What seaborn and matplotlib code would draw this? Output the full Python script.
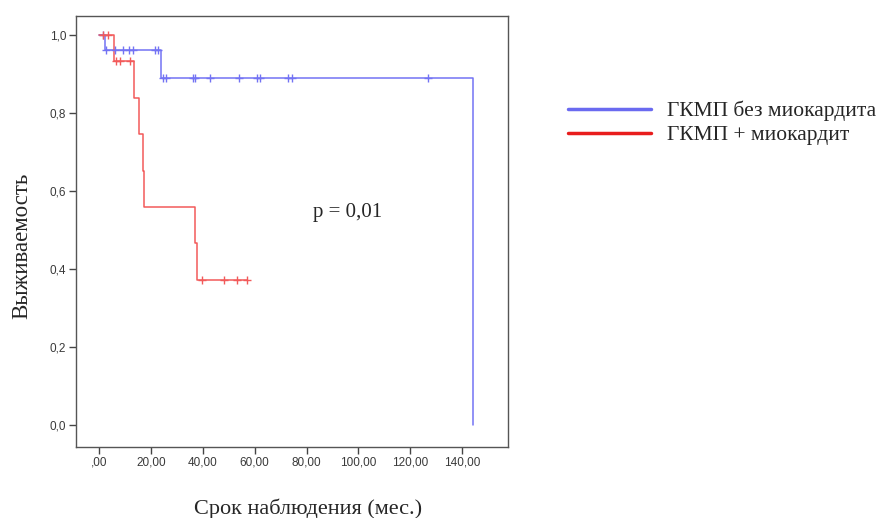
import numpy as np
import pandas as pd
import matplotlib
matplotlib.use("Agg")
import matplotlib.pyplot as plt
from matplotlib.lines import Line2D
import seaborn as sns

## data ##

group_labels = ["ГКМП без миокардита", "ГКМП + миокардит"]

# blue group: event times and survival after each step
blue_times = [0, 2.3, 24.0, 144.0]
blue_surv = [1.0, 0.963, 0.889, 0.0]
blue_censored = [1.5, 2.8, 6.2, 9.4, 11.7, 13.0, 21.6, 22.9,
                 24.6, 25.8, 36.1, 37.0, 42.8, 54.1, 60.8, 62.1, 73.0, 74.3, 127.0]

# red group
red_times = [0, 5.8, 13.5, 15.2, 16.8, 17.4, 36.9, 37.9, 57.0]
red_surv = [1.0, 0.933, 0.840, 0.747, 0.653, 0.560, 0.467, 0.373, 0.373]
red_censored = [1.5, 3.5, 6.5, 8.0, 12.0, 39.6, 48.0, 53.0, 57.0]

x_ticks = [0, 20, 40, 60, 80, 100, 120, 140]
x_tick_labels = [",00", "20,00", "40,00", "60,00", "80,00", "100,00", "120,00", "140,00"]
y_ticks = [0.0, 0.2, 0.4, 0.6, 0.8, 1.0]
y_tick_labels = ["0,0", "0,2", "0,4", "0,6", "0,8", "1,0"]

line_colors = ["#7373f4", "#f25a5a"]
legend_colors = ["#6a6af0", "#e81c1c"]

## build tables ##

curves = pd.concat([
    pd.DataFrame({"time": blue_times, "surv": blue_surv, "group": group_labels[0]}),
    pd.DataFrame({"time": red_times, "surv": red_surv, "group": group_labels[1]}),
], ignore_index=True)


def surv_at(times, surv, t):
    idx = np.searchsorted(times, t, side="right") - 1
    return np.asarray(surv)[idx]


marks = pd.concat([
    pd.DataFrame({"time": blue_censored,
                  "surv": surv_at(blue_times, blue_surv, blue_censored),
                  "group": group_labels[0]}),
    pd.DataFrame({"time": red_censored,
                  "surv": surv_at(red_times, red_surv, red_censored),
                  "group": group_labels[1]}),
], ignore_index=True)

## plot ##

sns.set_theme(style="white")
plt.rcParams["font.family"] = ["Liberation Serif", "DejaVu Serif"]

fig = plt.figure(figsize=(8.84, 5.18), dpi=100)
ax = fig.add_axes([0.086, 0.137, 0.4887, 0.832])

palette = dict(zip(group_labels, line_colors))
sns.lineplot(data=curves, x="time", y="surv", hue="group", palette=palette,
             drawstyle="steps-post", linewidth=1.1, sort=False,
             estimator=None, legend=False, ax=ax)
for g in group_labels:
    sub = marks[marks.group == g]
    ax.plot(sub.time, sub.surv, linestyle="none", marker="+",
            markersize=6, markeredgewidth=1.0, color=palette[g])

ax.set_xlim(-8.9, 157.7)
ax.set_ylim(-0.056, 1.049)
ax.set_xticks(x_ticks)
ax.set_xticklabels(x_tick_labels, fontfamily="Liberation Sans", fontsize=8.5, color="#3a3a3a")
ax.set_yticks(y_ticks)
ax.set_yticklabels(y_tick_labels, fontfamily="Liberation Sans", fontsize=8.5, color="#3a3a3a")
ax.tick_params(axis="both", direction="out", length=5, width=1, color="#444444", pad=2,
               bottom=True, left=True)
for s in ax.spines.values():
    s.set_color("#555555")
    s.set_linewidth(1.0)

ax.set_xlabel("Срок наблюдения (мес.)", fontsize=16)
ax.xaxis.set_label_coords(0.537, -0.119)
ax.set_ylabel("Выживаемость", fontsize=16.5)
ax.yaxis.set_label_coords(-0.125, 0.466)
ax.yaxis.label.set_va("center")

ax.text(82.5, 0.546, "p = 0,01", fontsize=15, va="center", ha="left")

handles = [Line2D([0], [0], color=c, linewidth=2.5) for c in legend_colors]
ax.legend(handles, group_labels, loc="upper left", bbox_to_anchor=(1.104, 0.838),
          frameon=False, fontsize=15.5, handlelength=3.85, handletextpad=0.75,
          labelspacing=0.17, borderaxespad=0.3)

plt.savefig("out.png", dpi=100)
